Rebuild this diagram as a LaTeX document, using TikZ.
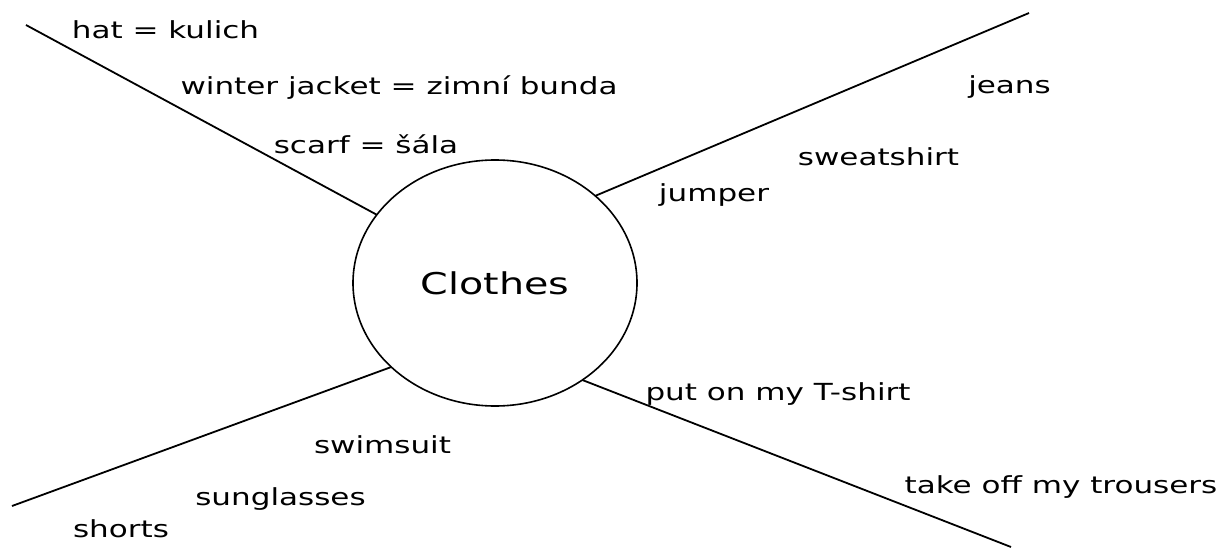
\documentclass[tikz,border=0pt]{standalone}
\usepackage{fontspec}
\newfontfamily\hand[FakeStretch=1.32]{DejaVu Sans}
\usetikzlibrary{shapes.geometric}
\begin{document}
\begin{tikzpicture}[x=1pt,y=-1pt,
  word/.style={font=\hand\fontsize{23.5}{28}\selectfont, anchor=base, inner sep=0pt},
  spoke/.style={line width=1.8pt, black},
  hub/.style={draw=black, line width=1.6pt, ellipse, minimum width=284pt, minimum height=246pt, inner sep=0pt, outer sep=0pt, font=\hand\fontsize{30}{34}\selectfont}]
\useasboundingbox (0,0) rectangle (1230,548);
\node[hub] (c) at (495,283) {Clothes};
\coordinate (tl) at (26,25);
\coordinate (tr) at (1029,13);
\coordinate (bl) at (12,506);
\coordinate (br) at (1011,547);
\draw[spoke] (c.150.2) -- (tl);
\draw[spoke] (c.41.1) -- (tr);
\draw[spoke] (c.219.1) -- (bl);
\draw[spoke] (c.312.6) -- (br);
\node[word] (hat) at (165.5,39) {hat = kulich};
\node[word] (winter) at (399,95) {winter jacket = zimní bunda};
\node[word] (scarf) at (366,154) {scarf = šála};
\node[word] (jeans) at (1009.5,94) {jeans};
\node[word] (sweat) at (878.5,165) {sweatshirt};
\node[word] (jumper) at (714,201) {jumper};
\node[word] (puton) at (778,400) {put on my T-shirt};
\node[word] (swim) at (382.5,453) {swimsuit};
\node[word] (sung) at (280.5,505) {sunglasses};
\node[word] (shorts) at (121,537) {shorts};
\node[word] (takeoff) at (1061,493) {take off my trousers};
\end{tikzpicture}
\end{document}
